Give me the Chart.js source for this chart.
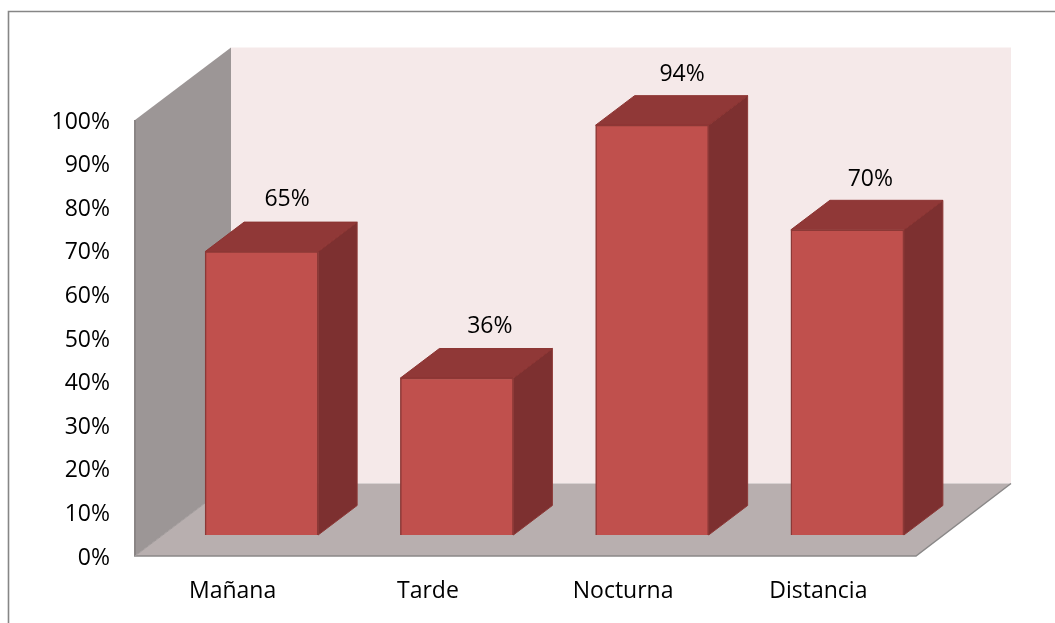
<!DOCTYPE html>
<html>
<head>
<meta charset="utf-8">
<style>
html,body{margin:0;padding:0;background:#fff;overflow:hidden}
#wrap{position:relative;width:1055px;height:623px}
canvas{display:block}
</style>
<script src="https://cdn.jsdelivr.net/npm/chart.js@4"></script>
</head>
<body>
<div id="wrap"><canvas id="c" width="1055" height="623"></canvas></div>
<script>
const categories = ['Mañana', 'Tarde', 'Nocturna', 'Distancia'];
const values = [65, 36, 94, 70];
const valueLabels = ['65%', '36%', '94%', '70%'];

const FONT = '"Open Sans", sans-serif';
const FS = 23;
const TXT = '#000';

function poly(ctx, pts, fill, stroke, lw) {
  ctx.beginPath();
  pts.forEach((p, i) => i ? ctx.lineTo(p[0], p[1]) : ctx.moveTo(p[0], p[1]));
  ctx.closePath();
  if (fill) { ctx.fillStyle = fill; ctx.fill(); }
  if (stroke) { ctx.strokeStyle = stroke; ctx.lineWidth = lw || 1; ctx.stroke(); }
}

const labelShift = [[25.5, -52], [33, -52], [30, -51], [23, -50]];

const scene = {
  id: 'scene',
  beforeDatasetsDraw(chart) {
    const ctx = chart.ctx, a = chart.chartArea;
    // front plane of the box is offset from the bars' plane
    const fx0 = a.left - 29, fx1 = a.right - 29, fy0 = a.top + 21, fy1 = a.bottom + 21;
    const bdx = 96, bdy = 72.5;
    ctx.save();
    // frame
    ctx.strokeStyle = '#868686'; ctx.lineWidth = 1.6;
    ctx.beginPath(); ctx.moveTo(8.5, 623); ctx.lineTo(8.5, 11.5); ctx.lineTo(1055, 11.5); ctx.stroke();
    // back wall
    poly(ctx, [[fx0+bdx, fy0-bdy],[fx1+bdx-1, fy0-bdy],[fx1+bdx-1, fy1-bdy],[fx0+bdx, fy1-bdy]], '#f5e9e9');
    // side wall
    poly(ctx, [[fx0, fy0],[fx0+bdx, fy0-bdy],[fx0+bdx, fy1-bdy],[fx0, fy1]], '#9c9696');
    ctx.strokeStyle = '#8a8585'; ctx.lineWidth = 2;
    ctx.beginPath(); ctx.moveTo(fx0, fy0); ctx.lineTo(fx0, fy1); ctx.stroke();
    // floor
    poly(ctx, [[fx0, fy1],[fx0+bdx, fy1-bdy],[fx1+bdx-1, fy1-bdy],[fx1, fy1]], '#b8afaf');
    ctx.strokeStyle = '#8a8888'; ctx.lineWidth = 1.5;
    ctx.beginPath(); ctx.moveTo(fx0-1, fy1); ctx.lineTo(fx1, fy1); ctx.lineTo(fx1+bdx-1, fy1-bdy); ctx.stroke();
    ctx.strokeStyle = '#a09a9a'; ctx.lineWidth = 1;
    ctx.beginPath(); ctx.moveTo(fx0, fy1); ctx.lineTo(fx0+bdx, fy1-bdy); ctx.stroke();
    // bar depth faces
    const dx = 39, dy = 29.5;
    chart.getDatasetMeta(0).data.forEach(el => {
      const l = el.x - el.width/2, r = el.x + el.width/2, t = el.y, b = el.base;
      poly(ctx, [[r,t],[r+dx,t-dy],[r+dx,b-dy],[r,b]], '#7d3030', '#8c3836', 1);
      poly(ctx, [[l,t],[l+dx,t-dy],[r+dx,t-dy],[r,t]], '#903837', '#8c3432', 1);
    });
    ctx.restore();
  },
  afterDatasetsDraw(chart) {
    const ctx = chart.ctx;
    ctx.save();
    ctx.font = FS + 'px ' + FONT;
    ctx.fillStyle = TXT;
    ctx.textAlign = 'center';
    ctx.textBaseline = 'middle';
    chart.getDatasetMeta(0).data.forEach((el, i) => {
      ctx.fillText(valueLabels[i], el.x + labelShift[i][0], el.y + labelShift[i][1]);
    });
    ctx.restore();
  }
};

new Chart(document.getElementById('c'), {
  type: 'bar',
  data: {
    labels: categories,
    datasets: [{
      data: values,
      backgroundColor: '#c0504d',
      borderColor: '#8c3836',
      borderWidth: 1.5,
      barThickness: 113
    }]
  },
  plugins: [scene],
  options: {
    responsive: false,
    animation: false,
    layout: { padding: { top: 99, right: 110, left: 0, bottom: 0 } },
    plugins: { legend: { display: false }, tooltip: { enabled: false }, title: { display: false } },
    scales: {
      x: {
        grid: { display: false, drawTicks: false },
        border: { display: false },
        afterFit(s) { s.height = 88; },
        ticks: {
          color: TXT, font: { family: FONT, size: FS },
          padding: 43, labelOffset: -29, maxRotation: 0, autoSkip: false
        }
      },
      y: {
        min: 0, max: 100,
        grid: { display: false, drawTicks: false },
        border: { display: false },
        afterFit(s) { s.width = 164; },
        ticks: {
          stepSize: 10, color: TXT, font: { family: FONT, size: FS },
          padding: 54, labelOffset: 23, autoSkip: false,
          callback: v => v + '%'
        }
      }
    }
  }
});
</script>
</body>
</html>
